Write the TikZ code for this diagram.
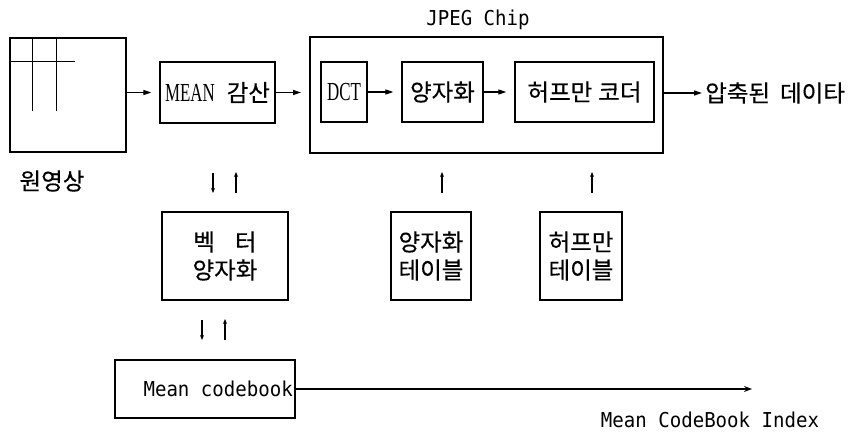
\documentclass[tikz,border=0pt]{standalone}
\usepackage{fontspec}
\setmainfont{Noto Sans CJK KR}
\newfontfamily\kr[FakeBold=0.4]{Noto Sans CJK KR}
\newfontfamily\cserif[FakeStretch=0.65]{Liberation Serif}
\newfontfamily\monof[FakeStretch=0.93]{DejaVu Sans Mono}
\usetikzlibrary{arrows.meta}
\tikzset{
  blk/.style={draw, line width=1.3pt, inner sep=0pt, font=\kr\fontsize{23.5pt}{28pt}\selectfont, align=center},
  chipbox/.style={draw, line width=2pt, inner sep=0pt},
  flow/.style={line width=1.2pt, -{Triangle[length=8pt,width=5pt]}, shorten >=8pt},
  tick/.style={line width=1.2pt, -{Stealth[length=5pt,width=4pt]}},
  lbl/.style={inner sep=0pt, font=\kr\fontsize{23.5pt}{28pt}\selectfont},
  monolbl/.style={inner sep=0pt, font=\monof\fontsize{20.5pt}{24pt}\selectfont},
}
\begin{document}
\begin{tikzpicture}[x=1pt,y=-1pt]
\useasboundingbox (0,0) rectangle (856,433);
% original image
\node[blk, line width=1.5pt, minimum width=116pt, minimum height=114pt] (img) at (68,95) {};
\draw[line width=1.4pt] (img.north west) ++(23,0) coordinate (v1a) -- ++(0,74);
\draw[line width=1.4pt] (img.north west) ++(47,0) coordinate (v2a) -- ++(0,74);
\draw[line width=1.4pt] (img.north west) ++(0,24) coordinate (h1a) -- ++(66,0);
\node[lbl] (orig) at (52,181) {원영상};
% mean subtraction
\node[blk, minimum width=115pt, minimum height=61pt] (mean) at (217.5,92.5) {{\cserif\fontsize{26pt}{28pt}\selectfont MEAN}\hspace{12pt}감산};
% JPEG chip
\node[chipbox, minimum width=353pt, minimum height=115pt] (chip) at (486.5,95) {};
\node[monolbl] (chiplbl) at (478,20) {JPEG Chip};
\node[blk, minimum width=46pt, minimum height=60pt] (dct) at (344,92) {\cserif\fontsize{26pt}{28pt}\selectfont DCT};
\node[blk, minimum width=81pt, minimum height=60pt] (quant) at (442.5,92) {양자화};
\node[blk, minimum width=139pt, minimum height=60pt] (huff) at (584.5,92) {허프만\hspace{6pt}코더};
\node[lbl, anchor=west] (out) at (705,93) {압축된\hspace{10pt}데이타};
% flow arrows
\draw[flow] (img.east |- mean) -- (mean.west);
\draw[flow] (mean.east) -- (mean.east -| chip.west);
\draw[flow] (dct.east) -- (quant.west);
\draw[flow] (quant.east) -- (huff.west);
\draw[flow, shorten >=3pt] (chip.east |- out) -- (out.west);
% lower boxes
\node[blk, minimum width=126pt, minimum height=88pt] (vq) at (225,256) {벡\hspace{20pt}터\\양자화};
\node[blk, minimum width=80pt, minimum height=88pt] (qt) at (431,256) {양자화\\테이블};
\node[blk, minimum width=82pt, minimum height=88pt] (ht) at (581,256) {허프만\\테이블};
\node[blk, minimum width=180pt, minimum height=58pt] (mcb) at (205,389) {};
\node[monolbl, anchor=west] (mcbtxt) at ([xshift=29pt]mcb.west) {Mean codebook};
\node[monolbl] (idx) at (710,420) {Mean CodeBook Index};
% small up/down arrows
\coordinate (d1a) at (213,173); \coordinate (d1b) at (213,193);
\coordinate (u1a) at (236,193); \coordinate (u1b) at (236,172);
\draw[tick] (d1a) -- (d1b);
\draw[tick] (u1a) -- (u1b);
\coordinate (d2a) at (202,320); \coordinate (d2b) at (202,340);
\coordinate (u2a) at (225,340); \coordinate (u2b) at (225,319);
\draw[tick] (d2a) -- (d2b);
\draw[tick] (u2a) -- (u2b);
\coordinate (q1a) at (442,193); \coordinate (q1b) at (442,172);
\draw[tick] (q1a) -- (q1b);
\coordinate (h1x) at (592,193); \coordinate (h1y) at (592,172);
\draw[tick] (h1x) -- (h1y);
% long arrow
\coordinate (idxend) at (752,389);
\draw[line width=1.2pt, -{Stealth[length=8pt,width=6pt]}] (mcb.east) -- (idxend);
\end{tikzpicture}
\end{document}
